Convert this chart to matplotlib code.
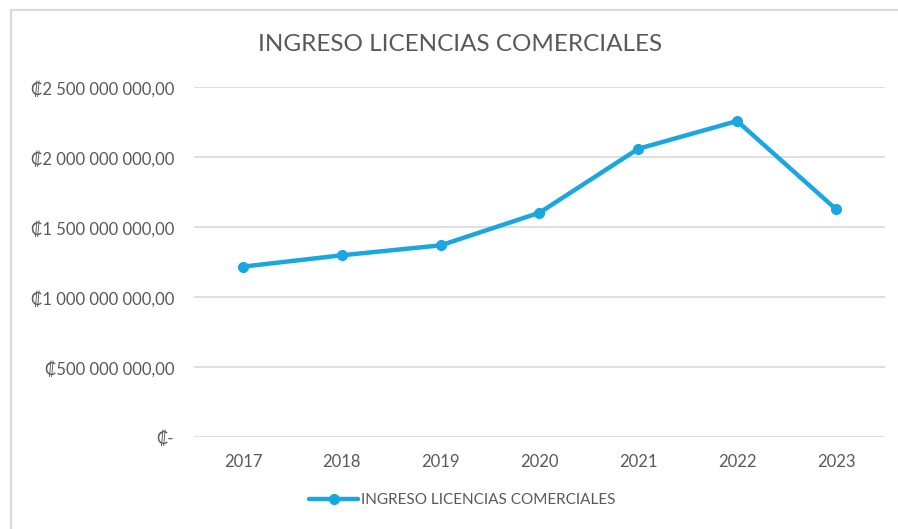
import matplotlib
matplotlib.use("Agg")
import matplotlib.pyplot as plt
from matplotlib.ticker import FuncFormatter
from matplotlib.lines import Line2D

# data
years = ["2017", "2018", "2019", "2020", "2021", "2022", "2023"]
ingreso = [1.219e9, 1.300e9, 1.371e9, 1.604e9, 2.061e9, 2.259e9, 1.629e9]
y_ticks = [0, 0.5e9, 1.0e9, 1.5e9, 2.0e9, 2.5e9]

TITLE = "INGRESO LICENCIAS COMERCIALES"
LINE_COLOR = "#1aa7e1"
TEXT_COLOR = "#595959"
GRID_COLOR = "#d9d9d9"

plt.rcParams["font.family"] = ["Lato", "DejaVu Sans"]


def colones(v, pos=None):
    if v == 0:
        return "₡-"
    s = f"{v:,.2f}"
    s = s.replace(",", " ").replace(".", ",")
    return "₡" + s


fig = plt.figure(figsize=(8.98, 5.29), dpi=100)

# chart frame: only top and left edges show in the screenshot
frame_y = 1 - 9.5 / 529
frame_x = 10.5 / 898
fig.lines.append(Line2D([frame_x, 1.0], [frame_y, frame_y], transform=fig.transFigure,
                        color="#d9d9d9", lw=1.5))
fig.lines.append(Line2D([frame_x, frame_x], [0.0, frame_y], transform=fig.transFigure,
                        color="#d9d9d9", lw=1.5))

ax = fig.add_axes([0.2155, 0.1734, 0.7705, 0.6616])
x = list(range(len(years)))
ax.plot(x, ingreso, color=LINE_COLOR, lw=3.2, marker="o", markersize=7,
        label=TITLE, solid_capstyle="round")

ax.set_xlim(-0.5, len(years) - 0.5)
ax.set_ylim(0, 2.5e9)
ax.set_yticks(y_ticks)
ax.yaxis.set_major_formatter(FuncFormatter(colones))
ax.set_xticks(x)
ax.set_xticklabels(years)
ax.tick_params(axis="y", length=0, pad=14, labelsize=12, labelcolor=TEXT_COLOR)
ax.tick_params(axis="x", length=0, pad=12, labelsize=12, labelcolor=TEXT_COLOR)
ax.grid(True, axis="y", color=GRID_COLOR, lw=1.2)
ax.set_axisbelow(True)
for sp in ax.spines.values():
    sp.set_visible(False)

fig.text(0.512, 0.915, TITLE, ha="center", va="center", fontsize=17.5, color=TEXT_COLOR)

fig.legend(loc="center", bbox_to_anchor=(0.515, 0.055), frameon=False,
           fontsize=11, labelcolor=TEXT_COLOR, handlelength=3.2, handletextpad=0.2)

fig.savefig("out.png", dpi=100)
